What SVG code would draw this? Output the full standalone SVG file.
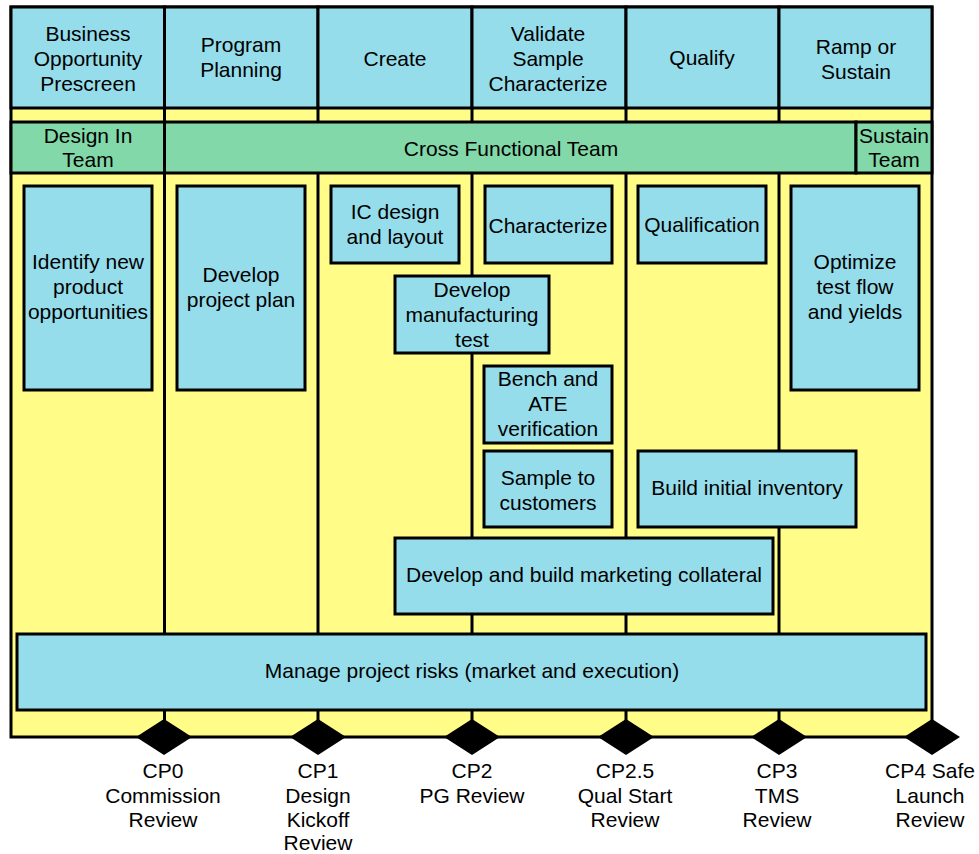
<svg xmlns="http://www.w3.org/2000/svg" width="979" height="854" viewBox="0 0 979 854">
<style>
.frame{fill:#FFFC88;stroke:#000;stroke-width:3}
.hdr{fill:#95DDEB;stroke:#000;stroke-width:3}
.team{fill:#82D8A8;stroke:#000;stroke-width:3}
.box{fill:#95DDEB;stroke:#000;stroke-width:3}
.ln{stroke:#000;stroke-width:3;fill:none}
.dia{fill:#000}
text{font-family:"Liberation Sans",Arial,sans-serif;font-size:21px;fill:#000;text-anchor:middle}
</style>
<rect class="frame" x="11" y="7" width="921" height="730"/>
<g id="lanes">
<line class="ln" x1="164.5" y1="7" x2="164.5" y2="737"/>
<line class="ln" x1="318" y1="7" x2="318" y2="737"/>
<line class="ln" x1="472" y1="7" x2="472" y2="737"/>
<line class="ln" x1="626" y1="7" x2="626" y2="737"/>
<line class="ln" x1="779" y1="7" x2="779" y2="737"/>
</g>
<g id="header">
<g id="h1"><rect class="hdr" x="11" y="7" width="153.5" height="101"/><text x="88" y="41">Business</text><text x="88" y="66">Opportunity</text><text x="88" y="91">Prescreen</text></g>
<g id="h2"><rect class="hdr" x="164.5" y="7" width="153.5" height="101"/><text x="241" y="52">Program</text><text x="241" y="77">Planning</text></g>
<g id="h3"><rect class="hdr" x="318" y="7" width="154" height="101"/><text x="395" y="66">Create</text></g>
<g id="h4"><rect class="hdr" x="472" y="7" width="154" height="101"/><text x="548" y="41">Validate</text><text x="548" y="66">Sample</text><text x="548" y="91">Characterize</text></g>
<g id="h5"><rect class="hdr" x="626" y="7" width="153" height="101"/><text x="702" y="65">Qualify</text></g>
<g id="h6"><rect class="hdr" x="779" y="7" width="153" height="101"/><text x="856" y="54">Ramp or</text><text x="856" y="79">Sustain</text></g>
</g>
<g id="teams">
<g id="t1"><rect class="team" x="11" y="122" width="153.5" height="51"/><text x="88" y="143">Design In</text><text x="88" y="167">Team</text></g>
<g id="t2"><rect class="team" x="164.5" y="122" width="691.5" height="51"/><text x="511" y="156">Cross Functional Team</text></g>
<g id="t3"><rect class="team" x="856" y="122" width="76" height="51"/><text x="894" y="143">Sustain</text><text x="894" y="167">Team</text></g>
</g>
<g id="n1"><rect class="box" x="24" y="186" width="128" height="204"/><text x="88" y="269">Identify new</text><text x="88" y="294">product</text><text x="88" y="319">opportunities</text></g>
<g id="n2"><rect class="box" x="177" y="186" width="128" height="204"/><text x="241" y="282">Develop</text><text x="241" y="307">project plan</text></g>
<g id="n3"><rect class="box" x="331" y="186" width="128" height="77"/><text x="395" y="219">IC design</text><text x="395" y="244">and layout</text></g>
<g id="n4"><rect class="box" x="485" y="186" width="127" height="77"/><text x="548" y="233">Characterize</text></g>
<g id="n5"><rect class="box" x="638" y="186" width="128" height="77"/><text x="702" y="232">Qualification</text></g>
<g id="n6"><rect class="box" x="791" y="186" width="128" height="204"/><text x="855" y="269">Optimize</text><text x="855" y="294">test flow</text><text x="855" y="319">and yields</text></g>
<g id="n7"><rect class="box" x="395" y="276" width="154" height="77"/><text x="472" y="297">Develop</text><text x="472" y="322">manufacturing</text><text x="472" y="347">test</text></g>
<g id="n8"><rect class="box" x="484" y="366" width="128" height="77"/><text x="548" y="386">Bench and</text><text x="548" y="411">ATE</text><text x="548" y="436">verification</text></g>
<g id="n9"><rect class="box" x="484" y="451" width="128" height="76"/><text x="548" y="485">Sample to</text><text x="548" y="510">customers</text></g>
<g id="n10"><rect class="box" x="638" y="451" width="218" height="76"/><text x="747" y="495">Build initial inventory</text></g>
<g id="n11"><rect class="box" x="395" y="538" width="378" height="76"/><text x="584" y="582">Develop and build marketing collateral</text></g>
<g id="n12"><rect class="box" x="17" y="634" width="909" height="76"/><text x="472" y="678">Manage project risks (market and execution)</text></g>
<g id="milestones">
<g id="cp0"><polygon class="dia" points="136,737 164,719 192,737 164,755"/><text x="163" y="778">CP0</text><text x="163" y="803">Commission</text><text x="163" y="827">Review</text></g>
<g id="cp1"><polygon class="dia" points="290,737 318,719 346,737 318,755"/><text x="318" y="778">CP1</text><text x="318" y="803">Design</text><text x="318" y="827">Kickoff</text><text x="318" y="850">Review</text></g>
<g id="cp2"><polygon class="dia" points="444,737 472,719 500,737 472,755"/><text x="472" y="778">CP2</text><text x="472" y="803">PG Review</text></g>
<g id="cp25"><polygon class="dia" points="598,737 626,719 654,737 626,755"/><text x="625" y="778">CP2.5</text><text x="625" y="803">Qual Start</text><text x="625" y="827">Review</text></g>
<g id="cp3"><polygon class="dia" points="751,737 779,719 807,737 779,755"/><text x="777" y="778">CP3</text><text x="777" y="803">TMS</text><text x="777" y="827">Review</text></g>
<g id="cp4"><polygon class="dia" points="904,737 932,719 960,737 932,755"/><text x="930" y="778">CP4 Safe</text><text x="930" y="803">Launch</text><text x="930" y="827">Review</text></g>
</g>
</svg>
